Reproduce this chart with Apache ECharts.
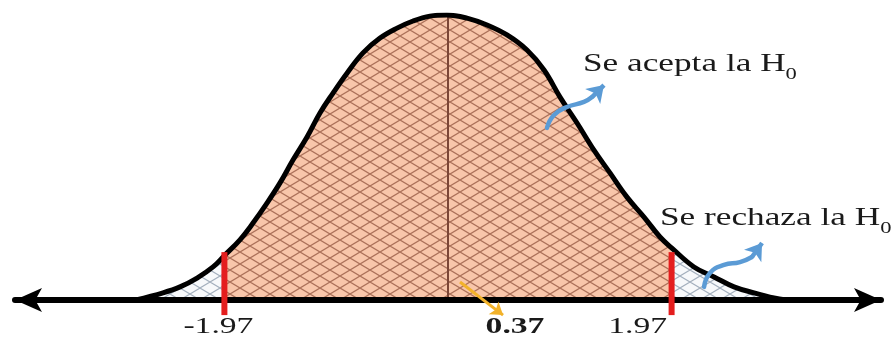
<!DOCTYPE html>
<html><head><meta charset="utf-8">
<script src="https://cdn.jsdelivr.net/npm/echarts@6/dist/echarts.min.js"></script>
<style>html,body{margin:0;padding:0;background:#fff}#c{width:894px;height:342px}</style>
</head><body><div id="c"></div>
<script>
// ---- data ----
const curveX = [-2.749, -2.511, -2.361, -2.211, -2.070, -1.97, -1.833, -1.718, -1.595, -1.480, -1.366, -1.242, -1.128, -1.013, -0.890, -0.749, -0.599, -0.449, -0.308, -0.159, -0.009, 0.167, 0.344, 0.520, 0.696, 0.846, 0.987, 1.137, 1.286, 1.427, 1.577, 1.727, 1.868, 1.97, 2.167, 2.344, 2.520, 2.696, 2.872, 2.978];
const curveY = [0, 0.025, 0.046, 0.077, 0.116, 0.156, 0.211, 0.270, 0.340, 0.411, 0.491, 0.572, 0.656, 0.726, 0.796, 0.867, 0.919, 0.954, 0.979, 0.996, 1.0, 0.989, 0.965, 0.930, 0.877, 0.807, 0.712, 0.621, 0.526, 0.446, 0.361, 0.291, 0.221, 0.183, 0.116, 0.081, 0.046, 0.025, 0.007, 0];
const meanValue = 0;
const criticalValues = [-1.97, 1.97];
const criticalTop = 0.168;
const criticalBottom = -0.053;
const statValue = 0.37;
const tickValues = [-1.97, 0.37, 1.97];
const tickLabels = ['-1.97', '0.37', '1.97'];
const acceptText = 'Se acepta la H';
const rejectText = 'Se rechaza la H';
const subText = '0';
// annotation arrows (data coordinates)
const arrowAcceptX = [0.872, 0.934, 1.048, 1.198, 1.269];
const arrowAcceptY = [0.604, 0.649, 0.677, 0.695, 0.712];
const arrowAcceptTip = [1.374, 0.754];
const arrowRejectX = [2.256, 2.308, 2.432, 2.573, 2.678];
const arrowRejectY = [0.046, 0.095, 0.123, 0.133, 0.151];
const arrowRejectTip = [2.767, 0.200];
const statArrowFrom = [0.106, 0.063];
const statArrowTo = [0.485, -0.053];

// ---- styles ----
function hatch(bg, line, w, h, lw) {
  const c = document.createElement('canvas');
  c.width = w; c.height = h;
  const g = c.getContext('2d');
  g.fillStyle = bg; g.fillRect(0, 0, w, h);
  g.strokeStyle = line; g.lineWidth = lw;
  g.beginPath();
  g.moveTo(-w, -h); g.lineTo(2 * w, 2 * h);
  g.moveTo(-w, 2 * h); g.lineTo(2 * w, -h);
  g.stroke();
  return c;
}
const midPattern = { image: hatch('#F8C6AA', 'rgba(125,62,40,0.62)', 20, 12, 1.25), repeat: 'repeat' };
const tailPattern = { image: hatch('#F7F9FB', '#A3AFBD', 20, 12, 1.1), repeat: 'repeat' };

const pts = curveX.map((x, i) => [x, curveY[i]]);
const leftPts = pts.filter(p => p[0] <= criticalValues[0] + 1e-9);
const midPts = pts.filter(p => p[0] >= criticalValues[0] - 1e-9 && p[0] <= criticalValues[1] + 1e-9);
const rightPts = pts.filter(p => p[0] >= criticalValues[1] - 1e-9);

function areaSeries(data, pattern) {
  return { type: 'line', data: data, smooth: 0.4, symbol: 'none', z: 2,
    lineStyle: { width: 0, opacity: 0 }, areaStyle: { color: pattern, opacity: 1 }, silent: true };
}

const chart = echarts.init(document.getElementById('c'), null, { renderer: 'canvas' });
const series = [
  areaSeries(leftPts, tailPattern),
  areaSeries(rightPts, tailPattern),
  areaSeries(midPts, midPattern),
  { type: 'line', data: [[meanValue, 0], [meanValue, 1]], symbol: 'none', z: 3,
    lineStyle: { color: '#7B4636', width: 2 } },
  { type: 'line', data: pts, smooth: 0.4, symbol: 'none', z: 5,
    lineStyle: { color: '#000', width: 5 } }
];
criticalValues.forEach(v => series.push({ type: 'line', clip: false, symbol: 'none', z: 12,
  data: [[v, criticalTop], [v, criticalBottom]], lineStyle: { color: '#E41E1E', width: 6 } }));
[[arrowAcceptX, arrowAcceptY], [arrowRejectX, arrowRejectY]].forEach(a => series.push({
  type: 'line', clip: false, symbol: 'none', smooth: 0.5, z: 13,
  data: a[0].map((x, i) => [x, a[1][i]]), lineStyle: { color: '#5B9BD5', width: 4.5, cap: 'round' } }));
series.push({
  type: 'lines', coordinateSystem: 'cartesian2d', clip: false, z: 13,
  symbol: ['none', 'arrow'],
  lineStyle: { opacity: 1 },
  data: [
    { coords: [[arrowAcceptX[4], arrowAcceptY[4]], arrowAcceptTip], symbolSize: 16, lineStyle: { color: '#5B9BD5', width: 4.5, opacity: 1 } },
    { coords: [[arrowRejectX[4], arrowRejectY[4]], arrowRejectTip], symbolSize: 16, lineStyle: { color: '#5B9BD5', width: 4.5, opacity: 1 } },
    { coords: [statArrowFrom, statArrowTo], symbolSize: 12, lineStyle: { color: '#F2B22A', width: 3, opacity: 1 } }
  ]
});

chart.setOption({
  animation: false,
  backgroundColor: '#fff',
  grid: { left: 15, right: 13, top: 15, bottom: 42, outerBoundsMode: 'none' },
  xAxis: { type: 'value', min: -3.815, max: 3.815, z: 10,
    axisLine: { show: true, onZero: true, symbol: ['arrow', 'arrow'], symbolSize: [18, 27],
      lineStyle: { color: '#000', width: 6 } },
    axisTick: { show: false }, axisLabel: { show: false }, splitLine: { show: false } },
  yAxis: { type: 'value', min: 0, max: 1, show: false },
  series: series
});

// ---- text ----
const serif = '"Liberation Serif", "Times New Roman", serif';
const labelOffsets = [-6, 25, -34];
const graphics = [];
tickValues.forEach((v, i) => {
  const p = chart.convertToPixel({ gridIndex: 0 }, [v, 0]);
  graphics.push({ type: 'text', x: p[0] + labelOffsets[i], y: 315, scaleX: 1.4, z: 20,
    style: { text: tickLabels[i], fill: '#1a1a1a',
      font: (tickLabels[i] === String(statValue) ? 'bold ' : '') + '24px ' + serif,
      align: 'center', verticalAlign: 'top', textAlign: 'center', textVerticalAlign: 'top', lineHeight: 24 } });
});
function annot(text, x, y) {
  return { type: 'text', x: x, y: y, scaleX: 1.41, z: 20,
    style: { text: '{m|' + text + '}{s|' + subText + '}', align: 'left', verticalAlign: 'top',
      textAlign: 'left', textVerticalAlign: 'top',
      rich: {
        m: { fontSize: 25, fontFamily: serif, fill: '#1a1a1a', lineHeight: 25, verticalAlign: 'top' },
        s: { fontSize: 16, fontFamily: serif, fill: '#1a1a1a', lineHeight: 16, padding: [15, 0, 0, 0], verticalAlign: 'top' }
      } } };
}
graphics.push(annot(acceptText, 583, 52));
graphics.push(annot(rejectText, 660, 206));
chart.setOption({ graphic: graphics });
</script>
</body></html>
